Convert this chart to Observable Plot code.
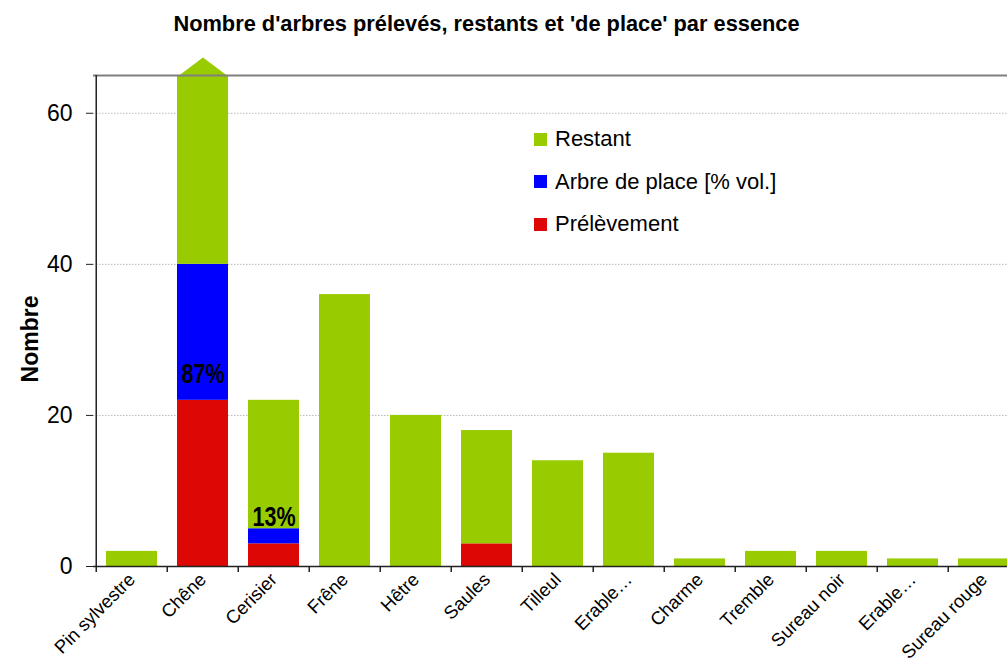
<!DOCTYPE html>
<html>
<head>
<meta charset="utf-8">
<script src="https://cdn.jsdelivr.net/npm/d3@7"></script>
<script src="https://cdn.jsdelivr.net/npm/@observablehq/plot@0.6"></script>
<style>
  html, body { margin: 0; padding: 0; background: #fff; }
  body { font-family: "Liberation Sans", Arial, sans-serif; }
  #wrap { position: relative; width: 1007px; height: 663px; overflow: hidden; }
  #title { position: absolute; left: 0; top: 13px; width: 973px; text-align: center;
           font-size: 21.8px; font-weight: bold; line-height: 21.5px; color: #000; }
  #chart { position: absolute; left: 0; top: 50px; }
  #legend { position: absolute; left: 534px; top: 118px; font-size: 22px; color: #000; }
  .item { display: flex; align-items: center; height: 42.5px; }
  .sw { width: 13px; height: 13px; margin-right: 8px; }
</style>
</head>
<body>
<div id="wrap">
  <div id="title">Nombre d'arbres prélevés, restants et 'de place' par essence</div>
  <div id="chart"></div>
  <div id="legend"></div>
</div>
<script>
const categories = ["Pin sylvestre","Chêne","Cerisier","Frêne","Hêtre","Saules","Tilleul","Erable…","Charme","Tremble","Sureau noir","Erable…","Sureau rouge"];
const prelevement  = [0, 22, 3, 0, 0, 3, 0, 0, 0, 0, 0, 0, 0];
const arbreDePlace = [0, 18, 2, 0, 0, 0, 0, 0, 0, 0, 0, 0, 0];
const restant      = [2, 30, 17, 36, 20, 15, 14, 15, 1, 2, 2, 1, 1];
const pctLabels    = ["", "87%", "13%", "", "", "", "", "", "", "", "", "", ""];
const series = ["Prélèvement", "Arbre de place [% vol.]", "Restant"];
const colors = ["#DD0806", "#0000FF", "#99CC00"];
const yTicks = [0, 20, 40, 60];
const yMax = 65;

const idx = categories.map((_, i) => i);
const rows = idx.flatMap(i => [
  {i, serie: series[0], value: prelevement[i]},
  {i, serie: series[1], value: arbreDePlace[i]},
  {i, serie: series[2], value: restant[i]}
]);
const labelRows = idx.filter(i => pctLabels[i]).map(i => ({i, text: pctLabels[i], base: prelevement[i]}));
const overflow = idx.filter(i => prelevement[i] + arbreDePlace[i] + restant[i] > yMax);

const W = 1007, H = 613, L = 93, R = 1023;
const step = (R - L) / categories.length;
const font = '"Liberation Sans", Arial, sans-serif';

const tri = { draw(ctx) { ctx.moveTo(-24, 0); ctx.lineTo(0, -18); ctx.lineTo(24, 0); ctx.closePath(); } };

const chart = Plot.plot({
  width: W, height: H,
  marginLeft: L, marginRight: 0, marginTop: 25, marginBottom: 97,
  style: { fontFamily: font, color: "#000", background: "transparent", overflow: "visible" },
  x: { type: "band", domain: idx, range: [L, R], paddingInner: 0.28, paddingOuter: 0.14, axis: null },
  y: { domain: [0, yMax], range: [H - 97, 25], axis: null },
  color: { domain: series, range: colors },
  marks: [
    Plot.ruleY(yTicks.filter(d => d > 0), { stroke: "#b8b8b8", strokeDasharray: "1.5,1.5", strokeWidth: 1 }),
    Plot.barY(rows, Plot.stackY({ x: "i", y: "value", fill: "serie", clip: true })),
    Plot.dot(overflow, { x: d => d, y: yMax, symbol: tri, fill: "#99CC00", stroke: null }),
    Plot.ruleY([yMax], { stroke: "#7f7f7f", strokeWidth: 2 }),
    Plot.ruleY([0], { stroke: "#222", strokeWidth: 1.5 }),
    Plot.ruleX([0], { x: d => d, dx: -step / 2, y1: 0, y2: yMax, stroke: "#222", strokeWidth: 1.5 }),
    Plot.ruleX(idx, { x: d => d, dx: -step / 2, y1: 0, y2: 0, insetBottom: -6, stroke: "#222", strokeWidth: 1.5 }),
    Plot.axisY(yTicks, { tickSize: 7, tickPadding: 14, fontSize: 23, stroke: "#222", label: null }),
    Plot.axisX(idx, { tickSize: 0, tickPadding: 10, tickRotate: -45, fontSize: 18.5, tickFormat: i => categories[i], label: null }),
    Plot.text(labelRows, { x: "i", y: "base", text: "text", dy: -26, fontSize: 27, fontWeight: "bold", fill: "#000" }),
    Plot.text(["Nombre"], { frameAnchor: "left", rotate: -90, dx: -63, dy: 18, textAnchor: "middle",
      fontSize: 23, fontWeight: "bold", fill: "#000" })
  ]
});
// condensed look for the percentage labels
d3.select(chart).selectAll("text")
  .filter(function() { return pctLabels.includes(this.textContent) && this.textContent !== ""; })
  .attr("textLength", 43).attr("lengthAdjust", "spacingAndGlyphs");
document.getElementById("chart").appendChild(chart);

const legend = document.getElementById("legend");
[2, 1, 0].forEach(k => {
  const it = document.createElement("div");
  it.className = "item";
  const sw = document.createElement("div");
  sw.className = "sw";
  sw.style.background = colors[k];
  const tx = document.createElement("span");
  tx.textContent = series[k];
  it.appendChild(sw); it.appendChild(tx);
  legend.appendChild(it);
});
</script>
</body>
</html>
